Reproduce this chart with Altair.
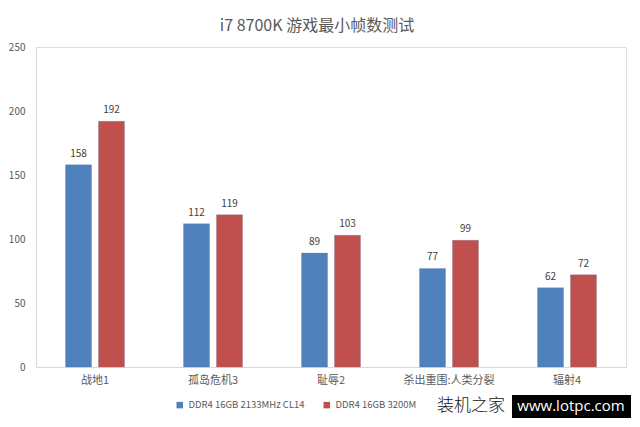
import altair as alt
import pandas as pd

games = ["战地1", "孤岛危机3", "耻辱2", "杀出重围:人类分裂", "辐射4"]
series = ["DDR4 16GB 2133MHz CL14", "DDR4 16GB 3200M"]
ddr2133 = [158, 112, 89, 77, 62]
ddr3200 = [192, 119, 103, 99, 72]
colors = ["#4F81BD", "#C0504D"]
y_ticks = [0, 50, 100, 150, 200, 250]

rows = []
for g, a, b in zip(games, ddr2133, ddr3200):
    rows.append({"game": g, "series": series[0], "fps": a})
    rows.append({"game": g, "series": series[1], "fps": b})
df = pd.DataFrame(rows)

FONT = "Noto Sans CJK SC"

x = alt.X("game:N", sort=games, title=None,
          scale=alt.Scale(paddingInner=0.5, paddingOuter=0.25),
          axis=alt.Axis(labelAngle=0, ticks=False, domainColor="#D9D9D9",
                        labelColor="#595959", labelFontSize=11, labelPadding=7,
                        labelFont=FONT))
xo = alt.XOffset("series:N", sort=series,
                 scale=alt.Scale(paddingInner=0.21, paddingOuter=0))
y = alt.Y("fps:Q", title=None,
          scale=alt.Scale(domain=[0, 250], nice=False),
          axis=alt.Axis(values=y_ticks, grid=False, ticks=False,
                        domainColor="#D9D9D9", labelColor="#595959",
                        labelFontSize=10, labelPadding=11, labelFont=FONT))

bars = alt.Chart(df).mark_bar(stroke="#3a5f8f", strokeWidth=0.4, strokeOpacity=0.5).encode(
    x=x, xOffset=xo, y=y,
    color=alt.Color("series:N", sort=series,
                    scale=alt.Scale(domain=series, range=colors),
                    legend=alt.Legend(title=None, orient="none", direction="horizontal",
                                      legendX=139, legendY=353,
                                      symbolType="square", symbolSize=42,
                                      symbolStrokeWidth=0,
                                      labelFontSize=9.5, labelColor="#595959",
                                      labelFont=FONT, columnPadding=17,
                                      labelOffset=4)),
)

labels = alt.Chart(df).mark_text(baseline="bottom", dy=-6, fontSize=10,
                                 color="#404040", font=FONT).encode(
    x=x, xOffset=xo, y=y, text=alt.Text("fps:Q")
)

wm_df = pd.DataFrame({"a": [1]})
wm_text = alt.Chart(wm_df).mark_text(text="装机之家", fontSize=17, color="#111111",
                                     font=FONT, fontWeight=300, align="left",
                                     baseline="middle").encode(
    x=alt.value(401), y=alt.value(359)
)
wm_box = alt.Chart(wm_df).mark_rect(color="#000000").encode(
    x=alt.value(476), x2=alt.value(595), y=alt.value(348), y2=alt.value(371)
)
wm_url = alt.Chart(wm_df).mark_text(text="www.lotpc.com", fontSize=15, color="#ffffff",
                                    font="Open Sans", align="center", baseline="middle").encode(
    x=alt.value(535), y=alt.value(359)
)

chart = alt.layer(bars, labels, wm_text, wm_box, wm_url).properties(
    width=590, height=320,
    autosize="none",
    padding={"left": 28, "top": 39, "right": 6, "bottom": 52},
    title=alt.TitleParams("i7 8700K 游戏最小帧数测试", fontSize=16, color="#595959",
                          font=FONT, fontWeight="normal", anchor="middle",
                          dx=-14, offset=8),
).configure_view(stroke=None).configure(background="#ffffff")

chart.save("out.html", embed_options={"renderer": "svg", "actions": False})
